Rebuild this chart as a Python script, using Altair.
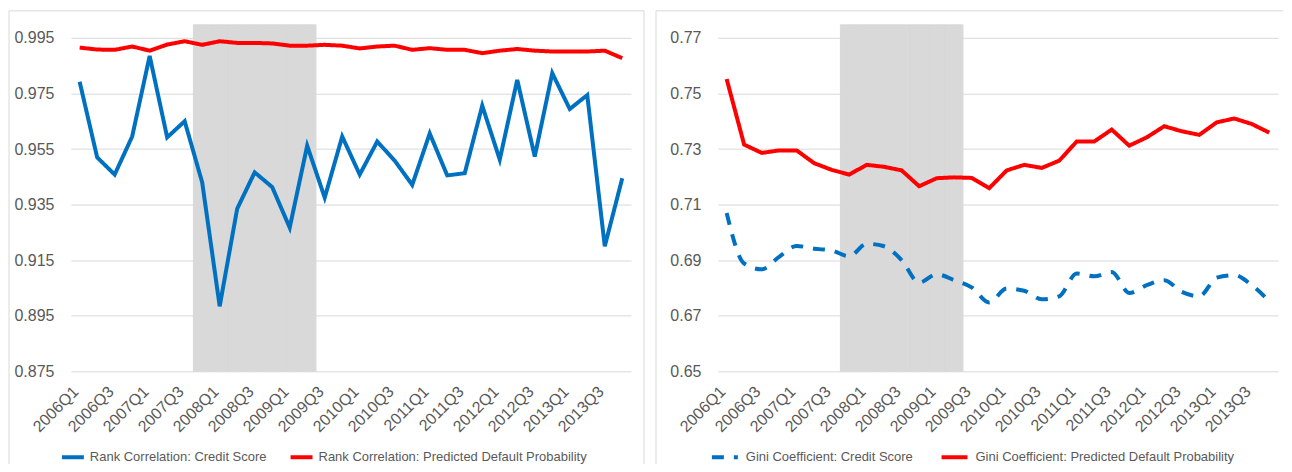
import altair as alt
import pandas as pd

quarters = ["2006Q1", "2006Q2", "2006Q3", "2006Q4", "2007Q1", "2007Q2", "2007Q3", "2007Q4",
            "2008Q1", "2008Q2", "2008Q3", "2008Q4", "2009Q1", "2009Q2", "2009Q3", "2009Q4",
            "2010Q1", "2010Q2", "2010Q3", "2010Q4", "2011Q1", "2011Q2", "2011Q3", "2011Q4",
            "2012Q1", "2012Q2", "2012Q3", "2012Q4", "2013Q1", "2013Q2", "2013Q3", "2013Q4"]
tick_quarters = ["2006Q1", "2006Q3", "2007Q1", "2007Q3", "2008Q1", "2008Q3", "2009Q1", "2009Q3",
                 "2010Q1", "2010Q3", "2011Q1", "2011Q3", "2012Q1", "2012Q3", "2013Q1", "2013Q3"]
recession = ["2007Q4", "2008Q1", "2008Q2", "2008Q3", "2008Q4", "2009Q1", "2009Q2"]

rank_credit = [0.9792, 0.9520, 0.9458, 0.9595, 0.9885, 0.9592, 0.9650, 0.9430,
               0.8984, 0.9335, 0.9466, 0.9413, 0.9267, 0.9562, 0.9375, 0.9595,
               0.9458, 0.9577, 0.9508, 0.9421, 0.9606, 0.9455, 0.9463, 0.9706,
               0.9512, 0.9799, 0.9523, 0.9823, 0.9694, 0.9744, 0.9200, 0.9445]
rank_pd = [0.9915, 0.9908, 0.9907, 0.9919, 0.9904, 0.9926, 0.9938, 0.9925,
           0.9938, 0.9932, 0.9932, 0.9930, 0.9922, 0.9922, 0.9925, 0.9922,
           0.9912, 0.9919, 0.9922, 0.9907, 0.9913, 0.9907, 0.9907, 0.9895,
           0.9904, 0.9910, 0.9904, 0.9901, 0.9901, 0.9901, 0.9904, 0.9877]
gini_credit = [0.7070, 0.6888, 0.6867, 0.6912, 0.6951, 0.6941, 0.6935, 0.6914,
               0.6959, 0.6950, 0.6900, 0.6819, 0.6849, 0.6828, 0.6802, 0.6748,
               0.6798, 0.6790, 0.6759, 0.6770, 0.6852, 0.6842, 0.6857, 0.6782,
               0.6810, 0.6828, 0.6786, 0.6770, 0.6837, 0.6846, 0.6810, 0.6752]
gini_pd = [0.7552, 0.7316, 0.7286, 0.7295, 0.7295, 0.7249, 0.7225, 0.7208,
           0.7243, 0.7236, 0.7223, 0.7166, 0.7195, 0.7198, 0.7196, 0.7159,
           0.7223, 0.7243, 0.7232, 0.7258, 0.7327, 0.7327, 0.7370, 0.7312,
           0.7342, 0.7382, 0.7364, 0.7351, 0.7396, 0.7410, 0.7390, 0.7359]

rank_ticks = [0.875, 0.895, 0.915, 0.935, 0.955, 0.975, 0.995]
gini_ticks = [0.65, 0.67, 0.69, 0.71, 0.73, 0.75, 0.77]

W, H = 561, 347
GRID = "#d9d9d9"
TXT = "#595959"
BLUE = "#0070c0"
RED = "#ff0000"
SHADE = "#d9d9d9"
FONT = "Liberation Sans"


def panel(credit, pdv, lab_c, lab_p, ydom, yticks, yfmt, dashed,
          leg_x, leg_y, sym_size, lab_off, col_pad, right_edge, draw_right):
    df = pd.DataFrame({
        "quarter": quarters + quarters,
        "value": credit + pdv,
        "series": [lab_c] * len(quarters) + [lab_p] * len(quarters),
    })
    xscale = alt.Scale(type="band", domain=quarters, paddingInner=0, paddingOuter=0)
    xaxis = alt.Axis(values=tick_quarters, labelAngle=-45, labelAlign="right", labelBaseline="alphabetic",
                     labelPadding=21, ticks=False, domain=False, grid=False, title=None,
                     labelFont=FONT, labelFontSize=16, labelColor=TXT)
    yscale = alt.Scale(domain=ydom, nice=False, zero=False)
    yaxis = alt.Axis(values=yticks, format=yfmt, ticks=False, domain=False, grid=True,
                     gridColor=GRID, gridWidth=1, title=None, labelPadding=17,
                     labelFont=FONT, labelFontSize=16, labelColor=TXT)
    legend = alt.Legend(orient="none", legendX=leg_x, legendY=leg_y, direction="horizontal",
                        title=None, symbolType="stroke", symbolStrokeWidth=4, symbolSize=sym_size,
                        labelFont=FONT, labelFontSize=13, labelColor=TXT, labelLimit=500,
                        columnPadding=col_pad, labelOffset=lab_off, padding=0)
    cscale = alt.Scale(domain=[lab_c, lab_p], range=[BLUE, RED])
    dscale = alt.Scale(domain=[lab_c, lab_p], range=[[12, 10] if dashed else [1, 0], [1, 0]])

    shade = alt.Chart(pd.DataFrame({"quarter": recession})).mark_rect(
        color=SHADE, stroke=SHADE, strokeWidth=1
    ).encode(
        x=alt.X("quarter:O", scale=xscale, sort=None, axis=xaxis),
        y=alt.value(0), y2=alt.value(H),
    )

    layers = [shade]
    for lab, interp in [(lab_c, "monotone" if dashed else "linear"), (lab_p, "linear")]:
        layers.append(
            alt.Chart(df).transform_filter(alt.datum.series == lab).mark_line(
                strokeWidth=4, interpolate=interp, strokeCap="butt"
            ).encode(
                x=alt.X("quarter:O", scale=xscale, sort=None, axis=xaxis),
                y=alt.Y("value:Q", scale=yscale, axis=yaxis),
                color=alt.Color("series:N", scale=cscale, legend=legend),
                strokeDash=alt.StrokeDash("series:N", scale=dscale, legend=legend),
            )
        )

    one = pd.DataFrame({"k": [0]})
    layers.append(alt.Chart(one).mark_rule(color=GRID, strokeWidth=1).encode(
        x=alt.value(-62), x2=alt.value(right_edge), y=alt.value(-14)))
    layers.append(alt.Chart(one).mark_rule(color=GRID, strokeWidth=1).encode(
        x=alt.value(-62), y=alt.value(-14), y2=alt.value(440)))
    if draw_right:
        layers.append(alt.Chart(one).mark_rule(color=GRID, strokeWidth=1).encode(
            x=alt.value(right_edge), y=alt.value(-14), y2=alt.value(440)))
    return alt.layer(*layers).properties(width=W, height=H)


left = panel(rank_credit, rank_pd,
             "Rank Correlation: Credit Score", "Rank Correlation: Predicted Default Probability",
             [0.875, 0.9997], rank_ticks, ".3f", False,
             -11, 420, 484, 4, 15, 574, True)
right = panel(gini_credit, gini_pd,
              "Gini Coefficient: Credit Score", "Gini Coefficient: Predicted Default Probability",
              [0.65, 0.7747], gini_ticks, ".2f", True,
              -8, 418, 676, 6, 20, 566, False)

chart = alt.hconcat(left, right, spacing=10).resolve_scale(
    x="independent", y="independent", color="independent", strokeDash="independent"
).configure(
    padding={"left": 0, "top": 1.5, "right": 0, "bottom": 0},
    background="white",
).configure_view(stroke=None)

chart.save("out.html", embed_options={"renderer": "svg", "actions": False})
